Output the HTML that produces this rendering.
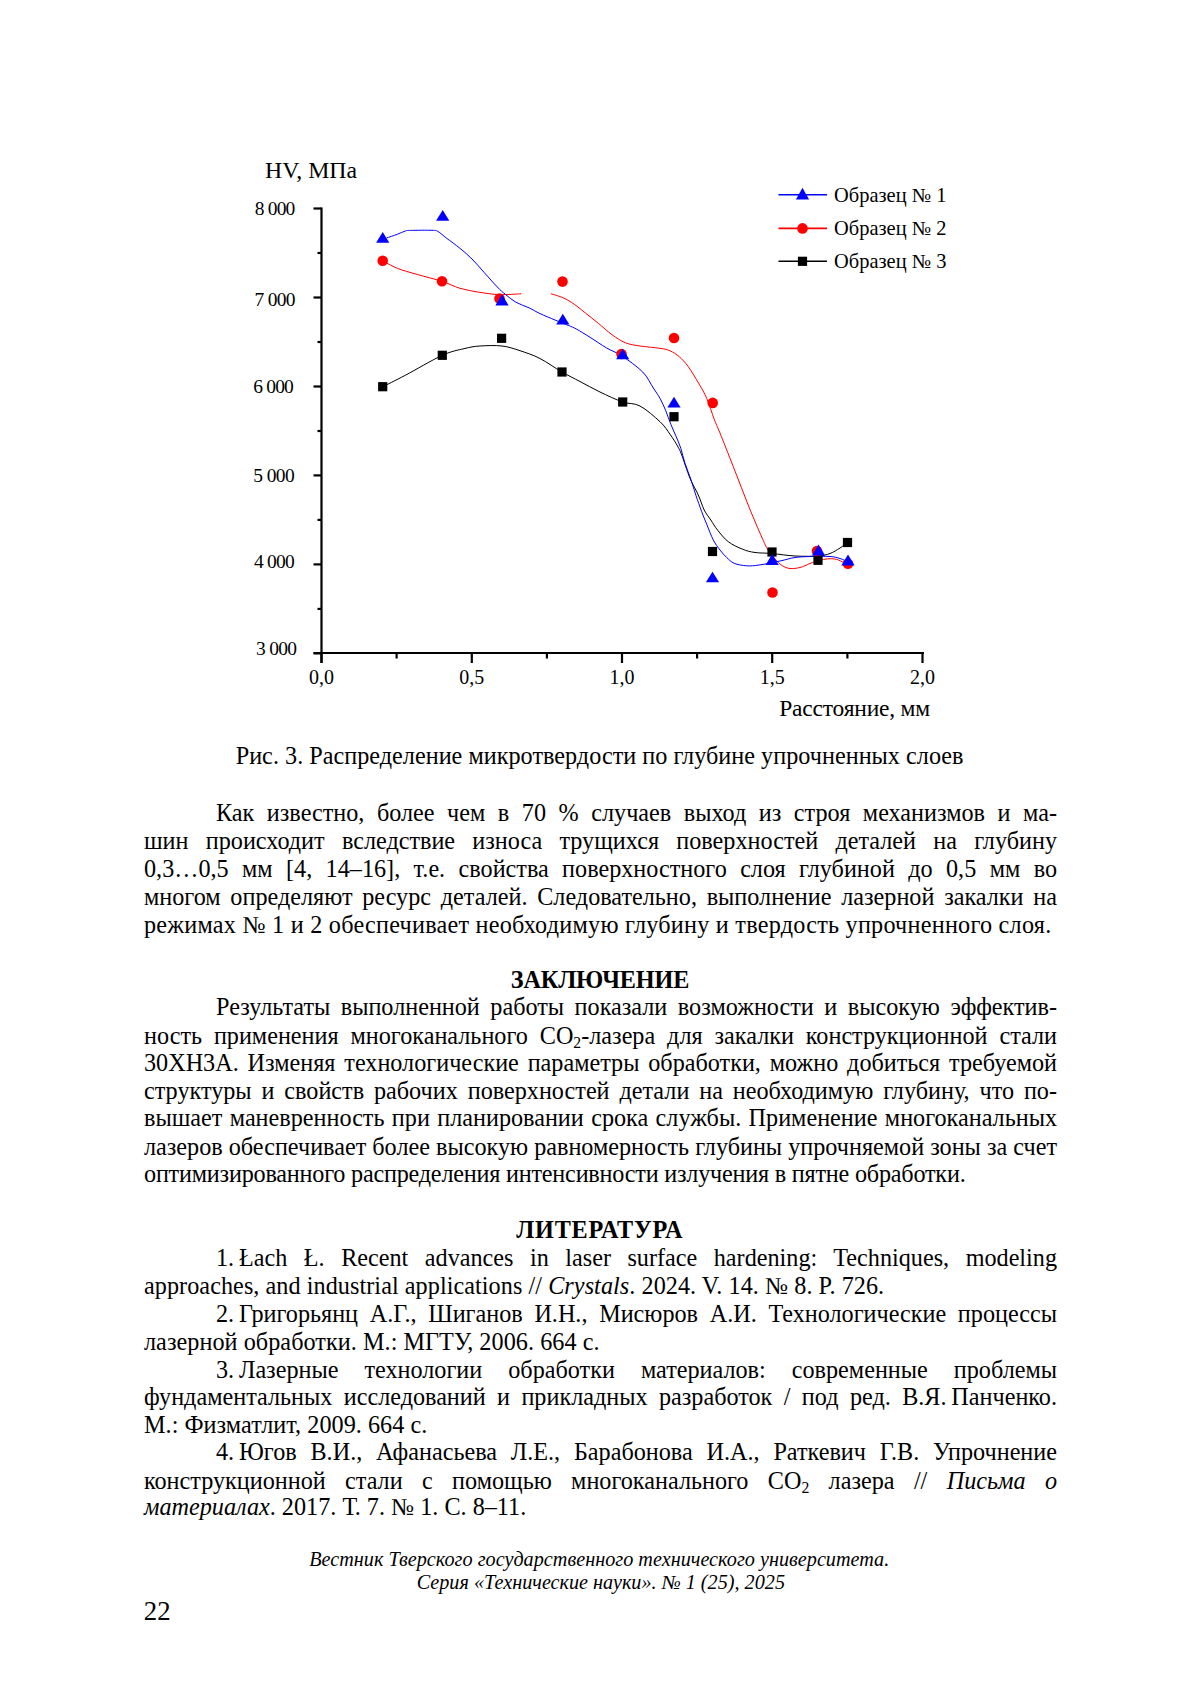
<!DOCTYPE html>
<html><head><meta charset="utf-8"><style>
html,body{margin:0;padding:0;background:#fff;}
body{width:1200px;height:1698px;position:relative;overflow:hidden;font-family:"Liberation Serif",serif;color:#000;}
.ln{position:absolute;line-height:0;white-space:nowrap;}
.j{white-space:normal;text-align:justify;text-align-last:justify;}
sub{font-size:65%;vertical-align:-0.25em;line-height:0;}
svg{position:absolute;left:0;top:0;}
</style></head><body>
<svg width="1200" height="760" viewBox="0 0 1200 760">
<g stroke="#000" stroke-width="2.2" fill="none">
<path d="M321.5,207.5 V663"/>
<path d="M313.5,653.0 H924"/>
<path d="M313.5,208.5 H321.5"/>
<path d="M313.5,297.5 H321.5"/>
<path d="M313.5,386.5 H321.5"/>
<path d="M313.5,475.4 H321.5"/>
<path d="M313.5,564.4 H321.5"/>
<path d="M313.5,653.4 H321.5"/>
<path d="M317.5,253.0 H321.5"/>
<path d="M317.5,342.0 H321.5"/>
<path d="M317.5,431.0 H321.5"/>
<path d="M317.5,519.9 H321.5"/>
<path d="M317.5,608.9 H321.5"/>
<path d="M321.5,653.0 V663"/>
<path d="M471.8,653.0 V663"/>
<path d="M622.0,653.0 V663"/>
<path d="M772.2,653.0 V663"/>
<path d="M922.5,653.0 V663"/>
<path d="M396.6,653.0 V658.5"/>
<path d="M546.9,653.0 V658.5"/>
<path d="M697.1,653.0 V658.5"/>
<path d="M847.4,653.0 V658.5"/>
</g>
<path d="M382.7,386.7 C386.5,384.8 395.4,380.5 405.3,375.3 C415.2,370.1 432.5,359.7 442.3,355.3 C452.1,350.9 457.7,350.2 464.0,348.7 C470.3,347.1 473.7,346.4 480.0,346.0 C486.3,345.6 495.3,345.2 502.0,346.0 C508.7,346.8 513.7,348.6 520.0,350.7 C526.3,352.8 533.0,354.9 540.0,358.5 C547.0,362.1 555.3,368.2 562.0,372.0 C568.7,375.8 573.7,378.2 580.0,381.5 C586.3,384.8 592.9,388.6 600.0,392.0 C607.1,395.4 616.0,399.7 622.7,402.0 C629.4,404.3 633.8,402.7 640.0,406.0 C646.2,409.3 655.0,417.0 660.0,421.7 C665.0,426.4 667.1,430.1 670.0,434.2 C672.9,438.2 675.5,442.5 677.5,446.0 C679.5,449.5 679.6,449.6 681.7,455.0 C683.8,460.4 687.2,471.6 690.0,478.3 C692.8,485.0 695.9,489.7 698.3,495.0 C700.7,500.3 702.1,505.8 704.2,510.0 C706.3,514.2 708.6,516.7 710.8,520.0 C713.0,523.3 714.6,526.4 717.5,530.0 C720.4,533.6 724.1,538.5 728.3,541.7 C732.5,544.9 738.0,547.4 742.5,549.2 C747.0,551.0 750.1,551.8 755.0,552.5 C759.9,553.2 765.3,552.9 772.0,553.5 C778.7,554.1 787.3,555.6 795.0,556.0 C802.7,556.4 812.2,556.4 818.0,556.0 C823.8,555.6 826.3,554.8 830.0,553.5 C833.7,552.2 837.1,549.8 840.0,548.0 C842.9,546.2 846.2,543.4 847.5,542.5" stroke="#000" stroke-width="1.0" fill="none"/>
<path d="M382.7,260.7 C385.1,262.0 391.5,266.0 397.3,268.3 C403.1,270.6 409.9,272.3 417.3,274.5 C424.8,276.7 434.9,279.0 442.0,281.3 C449.1,283.6 453.7,286.5 460.0,288.3 C466.3,290.1 473.3,291.3 480.0,292.4 C486.7,293.4 493.1,294.4 500.0,294.6 C506.9,294.8 517.8,293.9 521.3,293.8" stroke="#f00" stroke-width="1.0" fill="none"/>
<path d="M550.8,293.7 C552.9,294.4 559.4,296.1 563.3,297.9 C567.2,299.6 570.5,301.6 574.2,304.2 C578.0,306.8 581.8,310.1 585.8,313.3 C589.8,316.5 593.9,319.7 598.3,323.3 C602.7,326.9 607.5,331.5 612.0,334.7 C616.5,337.9 620.6,340.8 625.3,342.7 C630.0,344.6 634.2,345.1 640.0,346.0 C645.8,346.9 655.0,347.5 660.0,348.3 C665.0,349.1 666.8,349.4 670.0,350.8 C673.2,352.2 676.2,354.1 679.2,356.7 C682.2,359.3 685.0,362.1 688.3,366.7 C691.6,371.3 696.1,378.9 699.2,384.2 C702.3,389.5 704.2,392.5 706.7,398.3 C709.2,404.1 712.0,413.4 714.2,419.2 C716.4,425.0 716.8,425.1 720.0,433.0 C723.2,440.9 728.4,454.3 733.3,466.7 C738.2,479.1 744.5,495.8 749.2,507.5 C753.9,519.2 758.6,529.9 761.7,537.0 C764.8,544.1 765.8,546.3 768.0,550.0 C770.2,553.7 772.7,556.4 775.0,559.0 C777.3,561.6 779.5,563.9 782.0,565.5 C784.5,567.1 787.0,568.2 790.0,568.5 C793.0,568.8 796.7,568.3 800.0,567.5 C803.3,566.7 806.7,564.8 810.0,563.5 C813.3,562.2 815.8,560.8 820.0,560.0 C824.2,559.2 830.3,558.2 835.0,559.0 C839.7,559.8 845.8,564.0 848.0,565.0" stroke="#f00" stroke-width="1.0" fill="none"/>
<path d="M386.5,238.0 C388.3,237.4 394.2,235.5 397.3,234.3 C400.4,233.1 403.1,231.7 405.3,231.0 C407.5,230.3 406.2,230.5 410.7,230.4 C415.1,230.3 427.4,230.1 432.0,230.3 C436.6,230.5 435.6,230.2 438.0,231.5 C440.4,232.8 443.0,235.5 446.7,238.3 C450.4,241.1 455.8,244.9 460.0,248.3 C464.2,251.8 468.0,255.0 472.0,259.0 C476.0,263.0 479.8,267.6 484.0,272.3 C488.2,277.0 493.8,283.3 497.3,287.0 C500.9,290.7 502.2,291.8 505.3,294.3 C508.4,296.9 512.0,300.0 516.0,302.3 C520.0,304.6 525.2,306.0 529.2,307.9 C533.2,309.8 535.7,311.6 540.0,313.6 C544.3,315.6 550.3,318.0 555.0,320.0 C559.7,322.0 564.7,323.9 568.3,325.4 C571.9,326.9 573.1,327.2 576.7,329.2 C580.3,331.2 585.0,334.2 590.0,337.3 C595.0,340.4 601.4,344.9 606.7,348.0 C612.0,351.1 616.0,352.0 622.0,356.0 C628.0,360.0 637.5,366.7 642.7,372.0 C647.9,377.3 650.4,383.6 653.3,388.0 C656.2,392.4 657.9,394.5 660.0,398.3 C662.1,402.1 664.0,406.5 665.8,410.8 C667.6,415.1 669.1,420.0 670.8,424.2 C672.5,428.4 674.1,431.8 675.8,435.8 C677.5,439.8 679.3,443.7 680.8,448.3 C682.3,452.9 683.3,458.2 685.0,463.3 C686.7,468.4 689.0,473.9 690.8,479.2 C692.6,484.5 694.0,489.6 695.8,495.0 C697.6,500.4 699.9,506.8 701.7,511.7 C703.5,516.6 704.8,519.5 706.7,524.2 C708.6,528.9 711.1,535.7 713.3,540.0 C715.5,544.3 717.8,547.1 720.0,550.0 C722.2,552.9 724.3,555.3 726.7,557.5 C729.1,559.7 730.9,561.9 734.2,563.3 C737.5,564.7 742.5,565.5 746.7,565.8 C750.9,566.1 753.7,565.8 759.2,565.0 C764.8,564.2 774.0,562.2 780.0,561.0 C786.0,559.8 790.0,558.2 795.0,557.5 C800.0,556.8 804.2,556.7 810.0,556.5 C815.8,556.3 825.0,556.2 830.0,556.5 C835.0,556.8 837.0,557.6 840.0,558.5 C843.0,559.4 846.7,561.4 848.0,562.0" stroke="#00f" stroke-width="1.0" fill="none"/>
<rect x="378.1" y="382.1" width="9.2" height="9.2" fill="#000"/>
<rect x="437.7" y="350.7" width="9.2" height="9.2" fill="#000"/>
<rect x="497.0" y="333.7" width="9.2" height="9.2" fill="#000"/>
<rect x="557.4" y="367.4" width="9.2" height="9.2" fill="#000"/>
<rect x="618.1" y="397.4" width="9.2" height="9.2" fill="#000"/>
<rect x="669.4" y="412.1" width="9.2" height="9.2" fill="#000"/>
<rect x="707.9" y="546.9" width="9.2" height="9.2" fill="#000"/>
<rect x="767.4" y="547.4" width="9.2" height="9.2" fill="#000"/>
<rect x="813.4" y="555.7" width="9.2" height="9.2" fill="#000"/>
<rect x="842.9" y="537.9" width="9.2" height="9.2" fill="#000"/>
<circle cx="382.7" cy="260.7" r="5.3" fill="#f00"/>
<circle cx="442" cy="281.3" r="5.3" fill="#f00"/>
<circle cx="499.5" cy="298.5" r="5.3" fill="#f00"/>
<circle cx="562.5" cy="281.6" r="5.3" fill="#f00"/>
<circle cx="621.5" cy="354" r="5.3" fill="#f00"/>
<circle cx="674" cy="338" r="5.3" fill="#f00"/>
<circle cx="712.7" cy="402.9" r="5.3" fill="#f00"/>
<circle cx="772.5" cy="592.5" r="5.3" fill="#f00"/>
<circle cx="817" cy="551" r="5.3" fill="#f00"/>
<circle cx="848" cy="563.8" r="5.3" fill="#f00"/>
<path d="M382.7,232.0 L389.3,242.7 L376.1,242.7 Z" fill="#00f"/>
<path d="M442.7,210.0 L449.3,220.7 L436.1,220.7 Z" fill="#00f"/>
<path d="M502.0,294.3 L508.6,305.5 L495.4,305.5 Z" fill="#00f"/>
<path d="M562.8,313.8 L569.4,324.6 L556.2,324.6 Z" fill="#00f"/>
<path d="M622.7,348.7 L629.3,359.3 L616.1,359.3 Z" fill="#00f"/>
<path d="M674.0,396.7 L680.6,407.5 L667.4,407.5 Z" fill="#00f"/>
<path d="M712.5,571.7 L719.1,582.2 L705.9,582.2 Z" fill="#00f"/>
<path d="M772.2,554.0 L778.8,565.0 L765.6,565.0 Z" fill="#00f"/>
<path d="M818.5,544.5 L825.1,555.5 L811.9,555.5 Z" fill="#00f"/>
<path d="M848.0,554.5 L854.6,565.5 L841.4,565.5 Z" fill="#00f"/>
<path d="M778.5,194.8 H827" stroke="#00f" stroke-width="1.6"/>
<path d="M778.5,228.4 H827" stroke="#f00" stroke-width="1.6"/>
<path d="M778.5,261.3 H827" stroke="#000" stroke-width="1.6"/>
<path d="M802.5,187.7 L809.1,199.5 L795.9,199.5 Z" fill="#00f"/>
<circle cx="802.5" cy="228.4" r="5.3" fill="#f00"/>
<rect x="797.9" y="256.7" width="9.2" height="9.2" fill="#000"/>
</svg>
<div class="ln" style="top:756.33px;left:235.70px;font-size:24.2px;letter-spacing:0.020px;">Рис. 3. Распределение микротвердости по глубине упрочненных слоев</div>
<div class="ln j" style="top:812.83px;left:216.00px;font-size:24.2px;width:841.00px;">Как известно, более чем в 70 % случаев выход из строя механизмов и ма-</div>
<div class="ln j" style="top:840.83px;left:144.00px;font-size:24.2px;width:913.00px;">шин происходит вследствие износа трущихся поверхностей деталей на глубину</div>
<div class="ln j" style="top:868.83px;left:144.00px;font-size:24.2px;width:913.00px;">0,3…0,5 мм [4, 14–16], т.е. свойства поверхностного слоя глубиной до 0,5 мм во</div>
<div class="ln j" style="top:897.03px;left:144.00px;font-size:24.2px;width:913.00px;">многом определяют ресурс деталей. Следовательно, выполнение лазерной закалки на</div>
<div class="ln" style="top:924.63px;left:144.00px;font-size:24.2px;letter-spacing:0.246px;">режимах № 1 и 2 обеспечивает необходимую глубину и твердость упрочненного слоя.</div>
<div class="ln" style="top:980.13px;left:510.80px;font-size:24.2px;font-weight:bold;letter-spacing:-0.137px;">ЗАКЛЮЧЕНИЕ</div>
<div class="ln j" style="top:1007.03px;left:216.00px;font-size:24.2px;width:841.00px;">Результаты выполненной работы показали возможности и высокую эффектив-</div>
<div class="ln j" style="top:1035.53px;left:144.00px;font-size:24.2px;width:913.00px;">ность применения многоканального CO<sub>2</sub>-лазера для закалки конструкционной стали</div>
<div class="ln j" style="top:1063.33px;left:144.00px;font-size:24.2px;width:913.00px;">30ХН3А. Изменяя технологические параметры обработки, можно добиться требуемой</div>
<div class="ln j" style="top:1091.13px;left:144.00px;font-size:24.2px;width:913.00px;">структуры и свойств рабочих поверхностей детали на необходимую глубину, что по-</div>
<div class="ln j" style="top:1118.43px;left:144.00px;font-size:24.2px;width:913.00px;">вышает маневренность при планировании срока службы. Применение многоканальных</div>
<div class="ln j" style="top:1146.73px;left:144.00px;font-size:24.2px;width:913.00px;">лазеров обеспечивает более высокую равномерность глубины упрочняемой зоны за счет</div>
<div class="ln" style="top:1174.03px;left:144.00px;font-size:24.2px;letter-spacing:-0.209px;">оптимизированного распределения интенсивности излучения в пятне обработки.</div>
<div class="ln" style="top:1230.13px;left:516.30px;font-size:24.2px;font-weight:bold;letter-spacing:0.784px;">ЛИТЕРАТУРА</div>
<div class="ln j" style="top:1258.43px;left:216.00px;font-size:24.2px;width:841.00px;">1.&#8201;Łach Ł. Recent advances in laser surface hardening: Techniques, modeling</div>
<div class="ln" style="top:1286.23px;left:144.00px;font-size:24.2px;letter-spacing:0.058px;">approaches, and industrial applications // <i>Crystals</i>. 2024. V. 14. № 8. P. 726.</div>
<div class="ln j" style="top:1313.53px;left:216.00px;font-size:24.2px;width:841.00px;">2.&#8201;Григорьянц А.Г., Шиганов И.Н., Мисюров А.И. Технологические процессы</div>
<div class="ln" style="top:1341.83px;left:144.00px;font-size:24.2px;letter-spacing:0.054px;">лазерной обработки. М.: МГТУ, 2006. 664 с.</div>
<div class="ln j" style="top:1370.33px;left:216.00px;font-size:24.2px;width:841.00px;">3.&#8201;Лазерные технологии обработки материалов: современные проблемы</div>
<div class="ln j" style="top:1397.13px;left:144.00px;font-size:24.2px;width:913.00px;">фундаментальных исследований и прикладных разработок / под ред. В.Я.&#8201;Панченко.</div>
<div class="ln" style="top:1425.43px;left:144.00px;font-size:24.2px;letter-spacing:0.039px;">М.: Физматлит, 2009. 664 с.</div>
<div class="ln j" style="top:1452.33px;left:216.00px;font-size:24.2px;width:841.00px;">4.&#8201;Югов В.И., Афанасьева Л.Е., Барабонова И.А., Раткевич Г.В. Упрочнение</div>
<div class="ln j" style="top:1480.63px;left:144.00px;font-size:24.2px;width:913.00px;">конструкционной стали с помощью многоканального CO<sub>2</sub> лазера // <i>Письма о</i></div>
<div class="ln" style="top:1507.43px;left:144.00px;font-size:24.2px;letter-spacing:0.007px;"><i>материалах</i>. 2017. Т. 7. № 1. С. 8–11.</div>
<div class="ln" style="top:1558.98px;left:309.20px;font-size:20.2px;font-style:italic;letter-spacing:0.013px;">Вестник Тверского государственного технического университета.</div>
<div class="ln" style="top:1581.88px;left:416.70px;font-size:20.2px;font-style:italic;letter-spacing:0.002px;">Серия «Технические науки». № 1 (25), 2025</div>
<div class="ln" style="top:1610.97px;left:143.75px;font-size:26.75px;letter-spacing:0.000px;">22</div>
<div class="ln" style="top:170.47px;left:265.00px;font-size:23.8px;letter-spacing:-0.016px;">HV, МПа</div>
<div class="ln" style="top:209.42px;left:254.75px;font-size:19.5px;letter-spacing:-0.825px;">8 000</div>
<div class="ln" style="top:300.22px;left:254.40px;font-size:19.5px;letter-spacing:-0.675px;">7 000</div>
<div class="ln" style="top:387.02px;left:253.25px;font-size:19.5px;letter-spacing:-0.825px;">6 000</div>
<div class="ln" style="top:475.62px;left:253.25px;font-size:19.5px;letter-spacing:-0.605px;">5 000</div>
<div class="ln" style="top:562.02px;left:254.00px;font-size:19.5px;letter-spacing:-0.755px;">4 000</div>
<div class="ln" style="top:649.12px;left:255.90px;font-size:19.5px;letter-spacing:-0.675px;">3 000</div>
<div class="ln" style="top:676.55px;left:309.00px;font-size:20.0px;">0,0</div>
<div class="ln" style="top:676.55px;left:459.25px;font-size:20.0px;">0,5</div>
<div class="ln" style="top:676.55px;left:609.50px;font-size:20.0px;">1,0</div>
<div class="ln" style="top:676.55px;left:759.75px;font-size:20.0px;">1,5</div>
<div class="ln" style="top:676.55px;left:910.00px;font-size:20.0px;">2,0</div>
<div class="ln" style="top:708.27px;left:779.20px;font-size:23.5px;letter-spacing:-0.194px;">Расстояние, мм</div>
<div class="ln" style="top:195.02px;left:834.10px;font-size:20.4px;letter-spacing:0.016px;">Образец № 1</div>
<div class="ln" style="top:228.31px;left:834.10px;font-size:20.4px;letter-spacing:0.016px;">Образец № 2</div>
<div class="ln" style="top:260.72px;left:834.10px;font-size:20.4px;letter-spacing:0.016px;">Образец № 3</div>
</body></html>
